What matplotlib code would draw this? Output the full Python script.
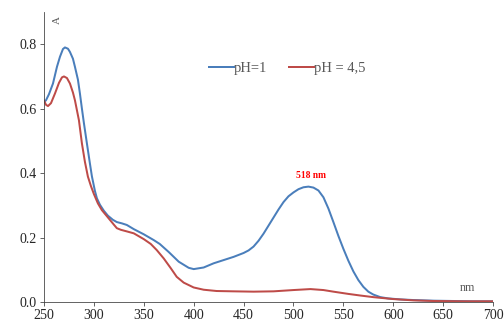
import numpy as np
import matplotlib.pyplot as plt

plt.rcParams['font.family'] = ['Liberation Serif', 'DejaVu Serif']

# pH = 1
nm_1 = [250, 252, 255, 259, 263, 266, 269, 271, 274, 276, 279, 281, 284, 286, 288,
        290, 293, 296, 298, 301, 303, 306, 310, 314, 319, 323, 328, 333, 340, 350,
        360, 366, 375, 385, 395, 400, 410, 420, 430, 440, 450, 455, 460, 465, 470,
        475, 480, 485, 490, 495, 500, 505, 510, 515, 520, 525, 530, 535, 540, 545,
        550, 555, 560, 565, 570, 575, 580, 587, 595, 607, 620, 640, 660, 680, 700]
abs_1 = [0.62, 0.626, 0.645, 0.678, 0.73, 0.761, 0.785, 0.79, 0.786, 0.776, 0.755,
         0.73, 0.69, 0.647, 0.6, 0.555, 0.492, 0.43, 0.39, 0.345, 0.322, 0.302, 0.283,
         0.268, 0.255, 0.248, 0.244, 0.239, 0.226, 0.21, 0.192, 0.18, 0.155, 0.125,
         0.106, 0.102, 0.107, 0.12, 0.13, 0.14, 0.152, 0.16, 0.172, 0.19, 0.212,
         0.237, 0.262, 0.287, 0.31, 0.328, 0.34, 0.35, 0.356, 0.358, 0.355, 0.346,
         0.325, 0.29, 0.248, 0.205, 0.165, 0.128, 0.095, 0.068, 0.047, 0.032, 0.023,
         0.015, 0.011, 0.008, 0.006, 0.004, 0.003, 0.002, 0.002]

# pH = 4,5
nm_45 = [250, 252, 254, 257, 261, 265, 268, 270, 273, 276, 279, 281, 283, 285, 288,
         291, 294, 297, 300, 304, 308, 312, 316, 320, 323, 327, 333, 340, 350, 357,
         363, 370, 377, 383, 390, 400, 410, 423, 440, 460, 480, 500, 517, 530, 540,
         555, 567, 580, 600, 620, 640, 670, 700]
abs_45 = [0.625, 0.612, 0.608, 0.617, 0.647, 0.68, 0.697, 0.70, 0.695, 0.678, 0.65,
          0.626, 0.595, 0.564, 0.492, 0.435, 0.389, 0.36, 0.335, 0.306, 0.285, 0.27,
          0.255, 0.24, 0.229, 0.224, 0.219, 0.213, 0.195, 0.18, 0.161, 0.135, 0.105,
          0.078, 0.06, 0.045, 0.038, 0.034, 0.033, 0.032, 0.033, 0.037, 0.04, 0.037,
          0.032, 0.025, 0.02, 0.015, 0.009, 0.005, 0.003, 0.002, 0.002]

fig = plt.figure(figsize=(7, 4.5), dpi=72)
ax = fig.add_axes([0.0873, 0.068, 0.891, 0.895])

ax.plot(nm_1, abs_1, color='#4a7ebb', lw=2, label='pH=1')
ax.plot(nm_45, abs_45, color='#be4b48', lw=2, label='pH = 4,5')

ax.set_xlim(250, 700)
ax.set_ylim(0, 0.9)
ax.set_xticks(np.arange(250, 701, 50))
ax.set_yticks([0.0, 0.2, 0.4, 0.6, 0.8])
ax.set_yticklabels(['0.0', '0.2', '0.4', '0.6', '0.8'])
ax.tick_params(labelsize=14, direction='out', length=4, color='#404040',
               labelcolor='#262626')
for s in ['top', 'right']:
    ax.spines[s].set_visible(False)
for s in ['left', 'bottom']:
    ax.spines[s].set_color('#404040')

ax.text(263, 0.875, 'A', rotation=90, fontsize=11, color='#595959',
        ha='center', va='center')
ax.text(674, 0.043, 'nm', fontsize=12, color='#595959', ha='center', va='center')
ax.text(518, 0.394, '518 nm', fontsize=9.5, color='red', fontweight='bold',
        ha='center', va='center')

ax.legend(loc='center', bbox_to_anchor=(0.542, 0.805), ncol=2, frameon=False,
          fontsize=14.5, handlelength=1.7, handletextpad=0.03, columnspacing=1.5,
          labelcolor='#595959')

fig.savefig('out.png', dpi=72)
